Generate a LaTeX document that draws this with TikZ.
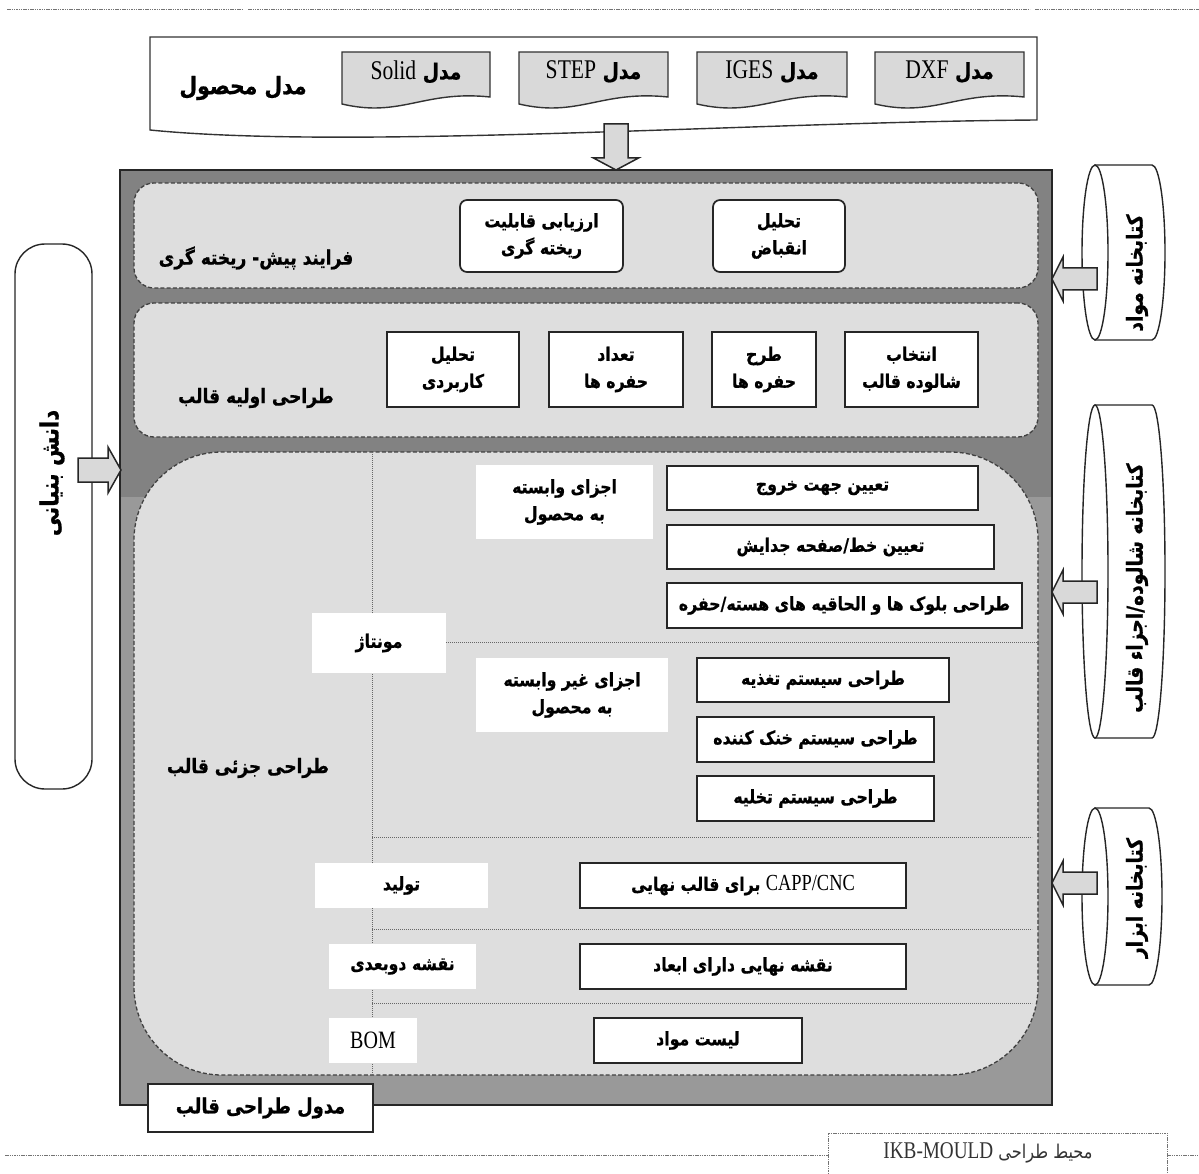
\documentclass[tikz,border=0pt]{standalone}
\usepackage{fontspec}
\usetikzlibrary{calc}
\TeXXeTstate=1
\newfontfamily\fa[Script=Arabic,FakeStretch=0.85,BoldFeatures={FakeBold=0.8}]{DejaVu Sans}
\newfontfamily\lat[FakeStretch=0.8]{Liberation Serif}
\newcommand\R[1]{\beginR#1\endR}
\newcommand\Lt[2][26]{{\lat\mdseries\fontsize{#1}{#1}\selectfont\beginL#2\endL}}
\newcommand\boxat[7]{\node[#1, minimum width={#5-#3}, minimum height={#6-#4}] (#2) at ({(#3+#5)/2},{(#4+#6)/2}) {#7};}
\begin{document}
\begin{tikzpicture}[x=1pt,y=-1pt,
  every node/.style={inner sep=0pt, outer sep=0pt},
  pt/.style={font=\fa\bfseries\fontsize{18.5}{27}\selectfont, align=center, text=black},
  wbox/.style={pt, draw=black!85, line width=1.7pt, fill=white},
  rbox/.style={wbox, rounded corners=7pt},
  lbl/.style={pt, fill=white},
  sect/.style={draw=black!75, line width=1.3pt, dash pattern=on 4pt off 2.2pt, fill=black!13},
  doc/.style={draw=black!80, line width=1.4pt, fill=black!15},
  arr/.style={draw=black!85, line width=1.5pt, fill=black!15, line join=miter},
  sepl/.style={draw=black!60, line width=0.9pt, dash pattern=on 1.2pt off 0.8pt},
  frame/.style={draw=black!55, line width=1pt, dash pattern=on 1.5pt off 0.8pt},
  cyl/.style={draw=black!85, line width=1.4pt, fill=white}]
\useasboundingbox (0,0) rectangle (1199,1174);

% environment frame
\draw[frame] (7,10) -- (243,10);
\draw[frame] (248,10) -- (1030,10);
\draw[frame] (1035,10) -- (1199,10);
\draw[frame] (5,1155) -- (828,1155);
\draw[frame] (1167,1155) -- (1199,1155);
\draw[frame] (828,1174) -- (828,1133) -- (1167,1133) -- (1167,1174);
\node[font=\fa\fontsize{19}{22}\selectfont, text=black!80] (env) at (988,1153) {\R{محیط طراحی \Lt[24]{IKB-MOULD}}};

% product model
\draw[doc, fill=white] (150,37) -- (1037,37) -- (1037,120) .. controls (750,122) and (350,150) .. (150,130) -- cycle;
\node[minimum width=887, minimum height=95] (prod) at (593,85) {};
\node[pt, font=\fa\bfseries\fontsize{24}{28}\selectfont] (prodlab) at (243,88) {\R{مدل محصول}};
\foreach \a/\b/\t/\n in {342/490/Solid/1, 519/668/STEP/2, 697/847/IGES/3, 875/1024/DXF/4}{
  \draw[doc] (\a,52) -- (\b,52) -- (\b,97) .. controls ({\b-0.45*(\b-\a)},90) and ({\a+0.4*(\b-\a)},118) .. (\a,104) -- cycle;
  \node[pt, font=\fa\bfseries\fontsize{22}{26}\selectfont] (doc\n) at ({(\a+\b)/2},72) {\R{مدل \Lt[27]{\t}}};
}

% main module box
\fill[black!49] (120,170) rectangle (1052,497);
\fill[black!40] (120,497) rectangle (1052,1105);
\node[draw=black!85, line width=1.8pt, minimum width=932, minimum height=935] (main) at (586,637.5) {};

% sections
\node[sect, rounded corners=20pt, minimum width=904, minimum height=105] (s1) at (586,235.5) {};
\node[sect, rounded corners=20pt, minimum width=904, minimum height=134] (s2) at (586,370) {};
\node[sect, rounded corners=88pt, minimum width=904, minimum height=623] (s3) at (586,763.5) {};

\node[pt, font=\fa\bfseries\fontsize{20}{24}\selectfont] (s1lab) at (256,258) {\R{فرایند پیش- ریخته گری}};
\node[pt, font=\fa\bfseries\fontsize{20}{24}\selectfont] (s2lab) at (256,398) {\R{طراحی اولیه قالب}};
\node[pt, font=\fa\bfseries\fontsize{20}{24}\selectfont] (s3lab) at (248,768) {\R{طراحی جزئی قالب}};

% section 1 boxes
\boxat{rbox}{cast}{460}{200}{623}{272}{\R{ارزیابی قابلیت}\\\R{ریخته گری}}
\boxat{rbox}{shrink}{713}{200}{845}{272}{\R{تحلیل}\\\R{انقباض}}

% section 2 boxes
\boxat{wbox}{appl}{387}{332}{519}{407}{\R{تحلیل}\\\R{کاربردی}}
\boxat{wbox}{ncav}{549}{332}{683}{407}{\R{تعداد}\\\R{حفره ها}}
\boxat{wbox}{lcav}{712}{332}{816}{407}{\R{طرح}\\\R{حفره ها}}
\boxat{wbox}{base}{845}{332}{978}{407}{\R{انتخاب}\\\R{شالوده قالب}}

% section 3 separators
\coordinate (vtop) at (372,452);
\coordinate (vbot) at (372,1075);
\draw[sepl] (vtop) -- (vbot);
\draw[sepl] (446,642) -- (1038,642);
\draw[sepl] (372,837) -- (1032,837);
\draw[sepl] (372,929) -- (1032,929);
\draw[sepl] (372,1003) -- (1032,1003);

% section 3 labels
\boxat{lbl}{mont}{312}{613}{446}{673}{\R{مونتاژ}}
\boxat{lbl}{prodc}{315}{863}{488}{908}{\R{تولید}}
\boxat{lbl}{draw2}{329}{944}{476}{989}{\R{نقشه دوبعدی}}
\boxat{lbl}{bom}{329}{1018}{417}{1063}{\Lt[25]{BOM}}
\boxat{lbl}{dep}{476}{465}{653}{539}{\R{اجزای وابسته}\\\R{به محصول}}
\boxat{lbl}{indep}{476}{658}{668}{732}{\R{اجزای غیر وابسته}\\\R{به محصول}}

% section 3 boxes
\boxat{wbox}{eject}{667}{466}{978}{510}{\R{تعیین جهت خروج}}
\boxat{wbox}{parting}{667}{525}{994}{569}{\R{تعیین خط/صفحه جدایش}}
\boxat{wbox}{blocks}{667}{583}{1022}{628}{\R{طراحی بلوک ها و الحاقیه های هسته/حفره}}
\boxat{wbox}{feed}{697}{658}{949}{702}{\R{طراحی سیستم تغذیه}}
\boxat{wbox}{cool}{697}{717}{934}{762}{\R{طراحی سیستم خنک کننده}}
\boxat{wbox}{vent}{697}{776}{934}{821}{\R{طراحی سیستم تخلیه}}
\boxat{wbox}{capp}{580}{863}{906}{908}{\R{\Lt[23]{CAPP/CNC} برای قالب نهایی}}
\boxat{wbox}{final}{580}{944}{906}{989}{\R{نقشه نهایی دارای ابعاد}}
\boxat{wbox}{mlist}{594}{1018}{802}{1063}{\R{لیست مواد}}

% module label
\boxat{wbox, font=\fa\bfseries\fontsize{21}{25}\selectfont}{module}{148}{1084}{373}{1132}{\R{مدول طراحی قالب}}

% product -> main arrow
\coordinate (dtail) at (616,124);
\draw[arr] (main.north -| dtail) -- ++(-22.5,-12) -- ++(10.5,0) -- ++(0,-34) -- ++(24,0) -- ++(0,34) -- ++(10.5,0) -- cycle;

% knowledge
\node[draw=black!85, line width=1.4pt, rounded corners=30pt, fill=white, minimum width=77, minimum height=545] (know) at (53.5,516.5) {};
\node[pt, rotate=90, font=\fa\bfseries\fontsize{25}{28}\selectfont] (knowtxt) at (52,473) {\R{دانش بنیانی}};
\coordinate (ktip) at (121,470);
\draw[arr] (ktip) -- ++(-13,-23) -- ++(0,11) -- ++(-30,0) -- ++(0,24) -- ++(30,0) -- ++(0,11) -- cycle;

% libraries (cylinders)
\draw[cyl] (1095,165) -- (1152,165) arc[start angle=90, end angle=-90, x radius=13pt, y radius=87.5pt] -- (1095,340) -- cycle;
\draw[cyl] (1095,252.5) ellipse [x radius=13pt, y radius=87.5pt];
\node[minimum width=83, minimum height=175] (cyl1) at (1123.5,252.5) {};
\node[pt, rotate=90, font=\fa\bfseries\fontsize{22}{26}\selectfont] (cyl1t) at (1137,273) {\R{کتابخانه مواد}};

\draw[cyl] (1095,405) -- (1152,405) arc[start angle=90, end angle=-90, x radius=13pt, y radius=166.5pt] -- (1095,738) -- cycle;
\draw[cyl] (1095,571.5) ellipse [x radius=13pt, y radius=166.5pt];
\node[minimum width=83, minimum height=333] (cyl2) at (1123.5,571.5) {};
\node[pt, rotate=90, font=\fa\bfseries\fontsize{22}{26}\selectfont] (cyl2t) at (1137,588) {\R{کتابخانه شالوده/اجزاء قالب}};

\draw[cyl] (1095,808) -- (1149,808) arc[start angle=90, end angle=-90, x radius=13pt, y radius=88.5pt] -- (1095,985) -- cycle;
\draw[cyl] (1095,896.5) ellipse [x radius=13pt, y radius=88.5pt];
\node[minimum width=80, minimum height=177] (cyl3) at (1122,896.5) {};
\node[pt, rotate=90, font=\fa\bfseries\fontsize{22}{26}\selectfont] (cyl3t) at (1137,898) {\R{کتابخانه ابزار}};

% library -> main arrows
\foreach \c/\yy in {cyl1/279, cyl2/592, cyl3/883}{
  \coordinate (lt) at (main.east |- 0,\yy);
  \draw[arr] (lt) -- ++(11,-22) -- ++(0,11) -- ++(34,0) -- ++(0,22) -- ++(-34,0) -- ++(0,11) -- cycle;
}
\end{tikzpicture}
\end{document}
